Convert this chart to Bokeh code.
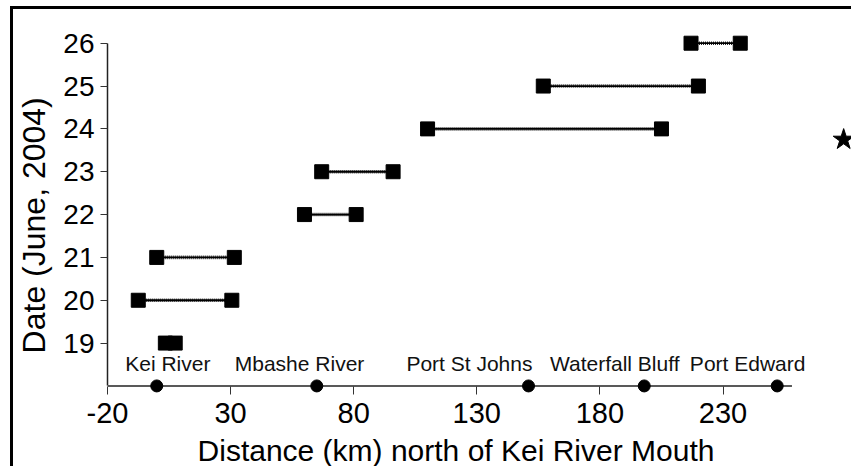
from bokeh.plotting import figure
from bokeh.models import ColumnDataSource, FixedTicker, Range1d
from bokeh.embed import file_html
from bokeh.resources import INLINE
from bokeh.core.properties import value

# ---- data ----
dates = [19, 20, 21, 22, 23, 24, 25, 26]
start_km = [3.5, -7.5, 0, 60, 67, 110, 157, 217]
end_km = [7.5, 30.5, 31.5, 81, 96, 205, 220, 237]

places = ["Kei River", "Mbashe River", "Port St Johns", "Waterfall Bluff", "Port Edward"]
place_km = [0, 65, 151, 198, 252]
place_label_km = [4.5, 58, 127, 186, 240]
place_date = [18, 18, 18, 18, 18]
place_label_date = [18.53, 18.53, 18.53, 18.53, 18.53]

star_km = [279]
star_date = [23.75]

x_ticks = [-20, 30, 80, 130, 180, 230]
y_ticks = [19, 20, 21, 22, 23, 24, 25, 26]
x_axis_span = (-20, 258)
y_axis_span = (18, 26)

FONT = "Liberation Sans"
NBSP = "\u00a0"

src = ColumnDataSource(dict(d=dates, s=start_km, e=end_km))
psrc = ColumnDataSource(dict(x=place_km, y=place_date, lx=place_label_km,
                             ly=place_label_date, t=places))

p = figure(width=841, height=460, x_range=Range1d(-20, 283.4), y_range=Range1d(17.8, 26.32),
           output_backend="svg", toolbar_location=None,
           min_border_left=91, min_border_bottom=75, min_border_top=20, min_border_right=0)
p.styles = {"margin-left": "10px", "margin-top": "6px",
            "border-left": "3px solid black", "border-top": "3px solid black"}

p.xgrid.visible = False
p.ygrid.visible = False
p.outline_line_color = None
p.background_fill_color = "white"
p.border_fill_color = "white"

for ax in (p.xaxis[0], p.yaxis[0]):
    ax.axis_line_color = "#222222"
    ax.axis_line_width = 1.5
    ax.major_tick_line_color = "#333333"
    ax.major_tick_line_width = 1
    ax.minor_tick_line_color = None
    ax.major_label_text_font = FONT
    ax.major_label_text_color = "black"
    ax.axis_label_text_font = FONT
    ax.axis_label_text_font_style = "normal"
    ax.axis_label_text_color = "black"

# y axis: ticks outward
p.yaxis.major_tick_out = 7
p.yaxis.major_tick_in = 0
p.yaxis.bounds = y_axis_span
# x axis: line drawn at y=18 (inside frame), ticks hang from it down to frame edge
p.xaxis.axis_line_color = None
p.xaxis.major_tick_out = 0
p.xaxis.major_tick_in = 8
p.xaxis.bounds = x_axis_span

p.xaxis.major_label_text_font_size = "29px"
p.yaxis.major_label_text_font_size = "28px"
p.xaxis.axis_label_text_font_size = "30px"
p.yaxis.axis_label_text_font_size = "32px"
p.xaxis.major_label_standoff = 8
p.yaxis.major_label_standoff = 6
p.xaxis.axis_label_standoff = 8
p.yaxis.axis_label_standoff = 8

p.xaxis.ticker = FixedTicker(ticks=x_ticks)
p.yaxis.ticker = FixedTicker(ticks=y_ticks)
p.xaxis.major_label_overrides = {-20: "-20"}
p.xaxis.axis_label = "Distance (km) north of Kei River Mouth" + NBSP * 6
p.yaxis.axis_label = "Date (June, 2004)" + NBSP * 3

# x axis baseline at y = 18
p.segment(x0=[x_axis_span[0]], y0=[y_axis_span[0]], x1=[x_axis_span[1]], y1=[y_axis_span[0]],
          line_color="#222222", line_width=1.5)

# connecting (wavy-looking) lines
p.segment(x0="s", y0="d", x1="e", y1="d", source=src, line_color="black", line_width=1.8)
p.segment(x0="s", y0="d", x1="e", y1="d", source=src, line_color="black", line_width=3.6,
          line_dash="1 1", line_alpha=0.85)

p.scatter(x="s", y="d", source=src, marker="square", size=14, color="black")
p.scatter(x="e", y="d", source=src, marker="square", size=14, color="black")

# place markers on the axis and their labels
p.scatter(x="x", y="y", source=psrc, marker="circle", size=12, color="black")
p.text(x="lx", y="ly", text="t", source=psrc, text_font=value(FONT), text_font_size="21px",
       text_align="center", text_baseline="middle", text_color="#111111")

p.scatter(x=star_km, y=star_date, marker="star", size=22, color="black")

open("out.html", "w").write(file_html(p, INLINE))
